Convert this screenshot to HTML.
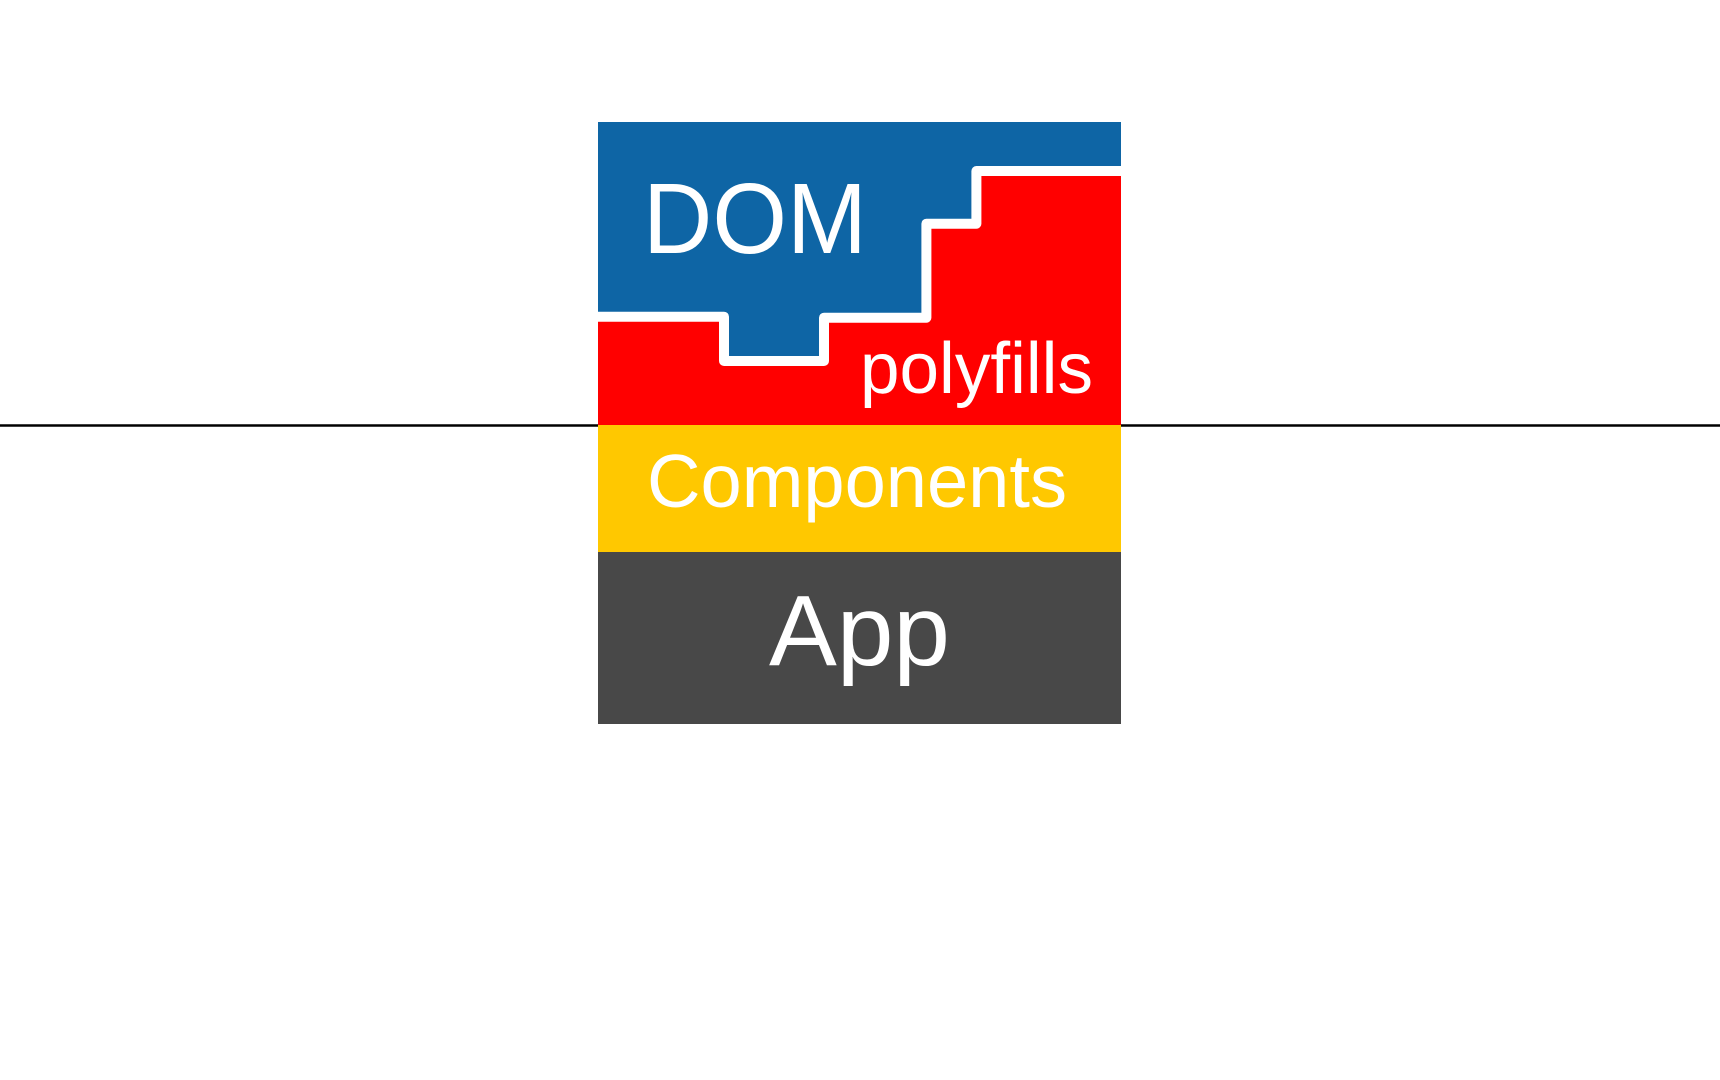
<!DOCTYPE html>
<html><head><meta charset="utf-8"><style>html,body{margin:0;padding:0;background:#fff;}svg{display:block}</style></head>
<body>
<svg width="1720" height="1080" viewBox="0 0 1720 1080" xmlns="http://www.w3.org/2000/svg">
<rect x="0" y="0" width="1720" height="1080" fill="#fff"/>
<line x1="0" y1="425.5" x2="1720" y2="425.5" stroke="#000" stroke-width="2.5"/>
<rect x="598" y="122" width="523" height="303" fill="#ff0000"/>
<path d="M598 122 H1121 V171 H976.4 V223.7 H926.4 V317.7 H824 V361 H724 V316.7 H598 Z" fill="#0e65a5"/>
<path d="M598 316.7 H724 V361 H824 V317.7 H926.4 V223.7 H976.4 V171 H1121" fill="none" stroke="#fff" stroke-width="10" stroke-linejoin="round"/>
<rect x="598" y="425" width="523" height="127" fill="#ffc800"/>
<rect x="598" y="552" width="523" height="172" fill="#484848"/>
<g fill="#fff" font-family="'Liberation Sans', sans-serif">
<text x="643" y="253" font-size="100" textLength="224" lengthAdjust="spacingAndGlyphs">DOM</text>
<text x="860" y="393" font-size="72" textLength="233" lengthAdjust="spacingAndGlyphs">polyfills</text>
<text x="647" y="507" font-size="75" textLength="420" lengthAdjust="spacingAndGlyphs">Components</text>
<text x="769" y="665" font-size="100" textLength="181" lengthAdjust="spacingAndGlyphs">App</text>
</g>
</svg>
</body></html>
